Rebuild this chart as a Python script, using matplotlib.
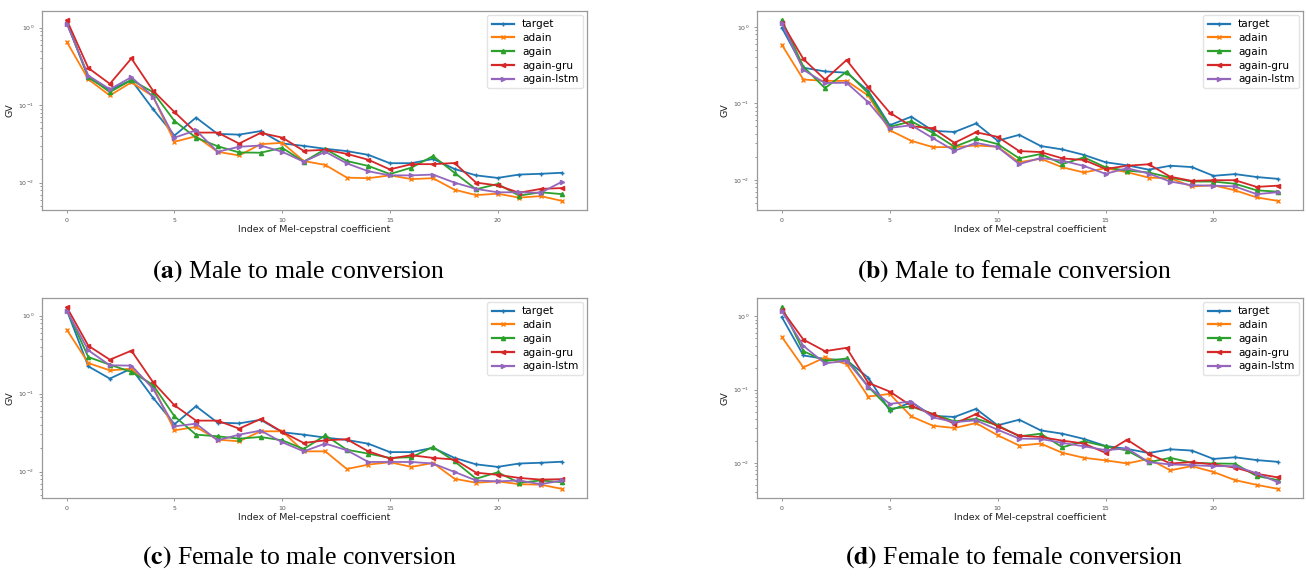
#!/usr/bin/env python3
"""Global variance per Mel-cepstral coefficient, four conversion directions."""

import matplotlib

matplotlib.use("Agg")
import matplotlib.pyplot as plt

# values
idx = list(range(24))
series_names = ["target", "adain", "again", "again-gru", "again-lstm"]

target_male = [1.18, 0.224, 0.156, 0.21, 0.089, 0.0405, 0.069, 0.0425, 0.0416, 0.0462, 0.032, 0.0298,
               0.0273, 0.0255, 0.0228, 0.0178, 0.0178, 0.0202, 0.015, 0.0124, 0.0115, 0.0127, 0.013, 0.0134]
target_female = [0.98, 0.293, 0.262, 0.252, 0.146, 0.0518, 0.067, 0.0438, 0.0423, 0.0546, 0.0325, 0.0388,
                 0.0277, 0.025, 0.0212, 0.017, 0.0155, 0.0136, 0.0153, 0.0147, 0.0113, 0.0119, 0.0109, 0.0103]

# (a) male to male
m2m_adain = [0.655, 0.215, 0.133, 0.197, 0.13, 0.0336, 0.0397, 0.025, 0.0224, 0.0313, 0.0326, 0.019,
             0.0169, 0.0116, 0.0114, 0.0124, 0.0111, 0.0114, 0.0081, 0.0069, 0.0072, 0.0064, 0.0067, 0.0058]
m2m_again = [1.16, 0.233, 0.147, 0.211, 0.147, 0.0624, 0.038, 0.0295, 0.0245, 0.0243, 0.0281, 0.0186,
             0.027, 0.019, 0.0164, 0.0129, 0.0156, 0.022, 0.0134, 0.0082, 0.0096, 0.0068, 0.0075, 0.0071]
m2m_gru = [1.25, 0.301, 0.188, 0.40, 0.154, 0.0813, 0.0442, 0.0442, 0.0319, 0.0438, 0.0381, 0.0257,
           0.0265, 0.0235, 0.0197, 0.0148, 0.0173, 0.0173, 0.0179, 0.0100, 0.0092, 0.0074, 0.0083, 0.0085]
m2m_lstm = [1.12, 0.24, 0.16, 0.229, 0.129, 0.038, 0.0473, 0.025, 0.029, 0.0301, 0.025, 0.0186,
            0.025, 0.0177, 0.014, 0.0124, 0.0124, 0.0127, 0.0100, 0.0083, 0.0075, 0.0075, 0.0074, 0.0103]

# (b) male to female
m2f_adain = [0.584, 0.205, 0.197, 0.197, 0.127, 0.0446, 0.0324, 0.0268, 0.0268, 0.0282, 0.0271, 0.017,
             0.0189, 0.0146, 0.0125, 0.0142, 0.0126, 0.0107, 0.0105, 0.0082, 0.0085, 0.0073, 0.0059, 0.0053]
m2f_again = [1.23, 0.302, 0.158, 0.26, 0.136, 0.0493, 0.0584, 0.0412, 0.0271, 0.0348, 0.0294, 0.0191,
             0.0218, 0.0161, 0.0197, 0.0146, 0.0132, 0.0125, 0.0107, 0.0095, 0.0095, 0.0089, 0.0073, 0.0070]
m2f_gru = [1.14, 0.38, 0.205, 0.369, 0.163, 0.0757, 0.0503, 0.0473, 0.0305, 0.042, 0.0365, 0.0238,
           0.0231, 0.0191, 0.0182, 0.0139, 0.0153, 0.016, 0.011, 0.0097, 0.0099, 0.0099, 0.0081, 0.0084]
m2f_lstm = [1.12, 0.274, 0.185, 0.186, 0.104, 0.0478, 0.0518, 0.0351, 0.024, 0.0305, 0.0268, 0.0161,
            0.0193, 0.0178, 0.0152, 0.012, 0.0142, 0.0121, 0.0095, 0.0085, 0.0084, 0.0082, 0.0065, 0.0069]

# (c) female to male
f2m_adain = [0.662, 0.247, 0.199, 0.209, 0.124, 0.0339, 0.0374, 0.0257, 0.0245, 0.0329, 0.0329, 0.0182,
             0.0182, 0.0108, 0.0123, 0.0132, 0.0115, 0.0129, 0.0081, 0.0072, 0.0075, 0.0069, 0.0068, 0.0060]
f2m_again = [1.19, 0.295, 0.235, 0.19, 0.13, 0.0512, 0.0298, 0.0284, 0.0265, 0.0278, 0.0252, 0.0195,
             0.0292, 0.0191, 0.017, 0.015, 0.0153, 0.0207, 0.0136, 0.0081, 0.0098, 0.0072, 0.0077, 0.0073]
f2m_gru = [1.29, 0.412, 0.273, 0.356, 0.141, 0.0709, 0.0451, 0.0451, 0.0356, 0.0473, 0.0323, 0.0233,
           0.0252, 0.026, 0.0182, 0.0147, 0.0162, 0.015, 0.0143, 0.0097, 0.0091, 0.0083, 0.0079, 0.0080]
f2m_lstm = [1.16, 0.36, 0.231, 0.229, 0.116, 0.0381, 0.0412, 0.0252, 0.0298, 0.0336, 0.0238, 0.0182,
            0.0229, 0.0188, 0.0133, 0.0133, 0.0133, 0.0127, 0.0099, 0.0077, 0.0075, 0.0077, 0.0069, 0.0077]

# (d) female to female
f2f_adain = [0.524, 0.201, 0.275, 0.223, 0.0804, 0.0873, 0.043, 0.0321, 0.0299, 0.0349, 0.0238, 0.0172,
             0.0183, 0.0137, 0.0117, 0.0108, 0.0098, 0.0113, 0.0079, 0.009, 0.0075, 0.0058, 0.005, 0.0044]
f2f_again = [1.34, 0.335, 0.245, 0.266, 0.11, 0.0547, 0.0588, 0.0463, 0.0368, 0.04, 0.0325, 0.023,
             0.025, 0.0163, 0.0197, 0.0168, 0.0147, 0.0102, 0.0117, 0.010, 0.0098, 0.0097, 0.0066, 0.0058]
f2f_gru = [1.23, 0.482, 0.335, 0.372, 0.124, 0.094, 0.06, 0.0463, 0.0342, 0.0463, 0.0315, 0.0235,
           0.0225, 0.0201, 0.0183, 0.0137, 0.0207, 0.0133, 0.0098, 0.0102, 0.0095, 0.0086, 0.0071, 0.0063]
f2f_lstm = [1.18, 0.396, 0.228, 0.248, 0.11, 0.0639, 0.0687, 0.0417, 0.036, 0.038, 0.0283, 0.0214,
            0.0212, 0.0187, 0.0168, 0.0149, 0.0157, 0.0102, 0.0095, 0.0093, 0.009, 0.009, 0.0072, 0.0054]

captions = [
    ("a", "Male to male conversion"),
    ("b", "Male to female conversion"),
    ("c", "Female to male conversion"),
    ("d", "Female to female conversion"),
]

COLORS = ["#1f77b4", "#ff7f0e", "#2ca02c", "#d62728", "#9467bd"]
MARKERS = ["+", "x", "^", "<", ">"]

W, H = 1306, 576
# axes boxes in pixels: left, top, right, bottom
BOXES = [(42, 11, 587, 210), (757, 11, 1303, 210), (42, 298, 587, 498), (757, 298, 1303, 498)]
CAP_POS = [(299, 271), (1014, 271), (299, 557), (1014, 557)]


def draw_panel(ax, series):
    for name, vals, c, m in zip(series_names, series, COLORS, MARKERS):
        ax.plot(idx, vals, color=c, marker=m, markersize=3, markeredgewidth=1.0, linewidth=1.3, label=name)
    ax.set_yscale("log")
    ax.set_xticks([0, 5, 10, 15, 20])
    ax.set_xlabel("Index of Mel-cepstral coefficient", fontsize=6.8, labelpad=2, color="#222222")
    ax.set_ylabel("GV", fontsize=6.8, labelpad=3, color="#222222")
    ax.tick_params(axis="both", which="both", labelsize=4.5, labelcolor="#555555", color="#888888",
                   length=2, width=0.6)
    ax.tick_params(axis="both", which="minor", length=1.2)
    for sp in ax.spines.values():
        sp.set_color("#999999")
        sp.set_linewidth(0.9)
    leg = ax.legend(loc="upper right", fontsize=7.6, handlelength=2.1, labelspacing=0.35,
                    borderaxespad=0.4, edgecolor="#dddddd")
    for line in leg.get_lines():
        line.set_linewidth(1.6)


def main():
    plt.rcParams["mathtext.fontset"] = "stix"
    fig = plt.figure(figsize=(W / 100, H / 100), dpi=100)

    panels = [
        [target_male, m2m_adain, m2m_again, m2m_gru, m2m_lstm],
        [target_female, m2f_adain, m2f_again, m2f_gru, m2f_lstm],
        [target_male, f2m_adain, f2m_again, f2m_gru, f2m_lstm],
        [target_female, f2f_adain, f2f_again, f2f_gru, f2f_lstm],
    ]

    for (l, t, r, b), series in zip(BOXES, panels):
        ax = fig.add_axes([l / W, 1 - b / H, (r - l) / W, (b - t) / H])
        draw_panel(ax, series)

    for (letter, text), (cx, cy) in zip(captions, CAP_POS):
        fig.text(cx / W, 1 - cy / H, r"$\mathbf{(" + letter + r")}$ " + text,
                 family="Liberation Serif", fontsize=18.5, ha="center", va="center")

    fig.savefig("out.png", dpi=100)


if __name__ == "__main__":
    main()
